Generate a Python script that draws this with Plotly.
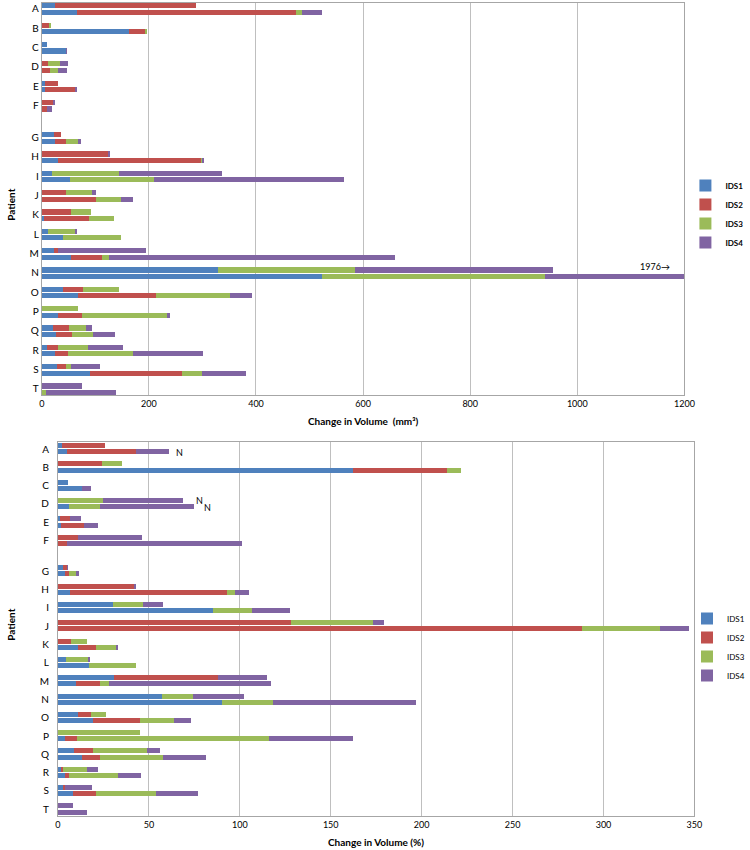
import plotly.graph_objects as go

patients = list("ABCDEFGHIJKLMNOPQRST")
series_names = ["IDS1", "IDS2", "IDS3", "IDS4"]
colors = ["#4F81BD", "#C0504D", "#9BBB59", "#8064A2"]

# Top panel: change in volume (mm3); two bars per patient (row 1, row 2)
vol_ids1 = [25, 65, 0, 163, 10, 45, 0, 0, 5, 6, 0, 0, 22, 25, 0, 29, 19, 52, 0, 0,
            0, 4, 11, 39, 22, 55, 328, 522, 40, 67, 0, 29, 20, 27, 10, 25, 28, 89, 0, 0]
vol_ids2 = [263, 410, 14, 30, 0, 0, 11, 14, 24, 56, 21, 10, 13, 20, 125, 267, 0, 0, 45, 101,
            54, 83, 0, 0, 8, 57, 0, 0, 36, 145, 0, 45, 30, 29, 19, 24, 17, 173, 0, 0]
vol_ids3 = [0, 11, 3, 2, 0, 0, 23, 16, 0, 0, 0, 0, 0, 22, 0, 4, 124, 157, 48, 46,
            37, 47, 52, 109, 0, 14, 256, 418, 67, 139, 68, 159, 33, 39, 56, 121, 10, 36, 0, 8]
vol_ids4 = [0, 37, 0, 0, 0, 1, 14, 17, 0, 3, 2, 8, 0, 5, 1, 3, 194, 354, 8, 23,
            0, 0, 1, 0, 165, 533, 371, 1036, 0, 42, 0, 6, 11, 42, 66, 130, 54, 83, 74, 130]

# Bottom panel: change in volume (%)
pct_ids1 = [2, 5, 0, 162, 5.5, 13, 0, 6, 1, 1.4, 0, 0, 3, 3.6, 0, 6.4, 30, 85.5, 0, 0,
            0, 11, 4.4, 17, 31, 10, 57, 90, 11, 19, 0, 3.6, 9, 13, 1.4, 3.6, 2.5, 8, 0, 0]
pct_ids2 = [24, 38, 24, 52, 0, 0, 0, 0, 5.5, 12.8, 11, 5, 2, 2.5, 42, 86.5, 0, 0, 128, 288,
            7, 10, 0, 0, 57, 13, 0, 0, 7, 26, 0, 6.7, 10, 10, 1.4, 2.3, 1.4, 13, 0, 0]
pct_ids3 = [0, 0, 11, 7.5, 0, 0, 25, 17, 0, 0, 0, 0, 0, 3.9, 0, 4.3, 17, 21, 45, 43,
            9, 11, 12.4, 26, 0, 5, 17, 28, 8.5, 19, 45, 106, 30, 35, 13, 27, 0, 33, 0, 0]
pct_ids4 = [0, 18, 0, 0, 0, 5, 44, 52, 6, 8, 35, 96, 0.5, 1.4, 0.4, 7.8, 11, 21, 6, 16,
            0, 1, 1, 0, 27, 89, 28.5, 79, 0, 9, 0, 46, 7, 23.5, 6, 13, 15, 23, 8.4, 16]

top_ticks = [0, 200, 400, 600, 800, 1000, 1200]
bottom_ticks = [0, 50, 100, 150, 200, 250, 300, 350]

# row layout: two bars per patient, one blank row between patients,
# two extra blank rows between F and G
rows = []
for i in range(len(patients)):
    extra = 2 if i >= 6 else 0
    rows += [3 * i + extra, 3 * i + extra + 1]
label_pos = [3 * i + (2 if i >= 6 else 0) + 0.5 for i in range(len(patients))]

FONT = "Lato, Open Sans, sans-serif"
fig = go.Figure()

top_data = [vol_ids1, vol_ids2, vol_ids3, vol_ids4]
bot_data = [pct_ids1, pct_ids2, pct_ids3, pct_ids4]
for name, col, vals in zip(series_names, colors, top_data):
    fig.add_trace(go.Bar(x=vals, y=rows, orientation="h", name=name,
                         marker=dict(color=col, line=dict(width=0)), width=0.8,
                         xaxis="x", yaxis="y", legend="legend"))
for name, col, vals in zip(series_names, colors, bot_data):
    fig.add_trace(go.Bar(x=vals, y=rows, orientation="h", name=name,
                         marker=dict(color=col, line=dict(width=0)), width=0.82,
                         xaxis="x2", yaxis="y2", legend="legend2"))

# body margin is removed in the page (post_script), so paper == page
W, H = 750, 850
def fx(px):
    return px / W
def fy(py):
    return 1 - py / H
def px_x(a, b):
    return [fx(a), fx(b)]
def px_y(top, bottom):
    return [fy(bottom), fy(top)]

axis_common = dict(showline=True, linecolor="#A6A6A6", linewidth=1, mirror=True,
                   ticks="", zeroline=False)
xfont = dict(family=FONT, size=9, color="#000")
yfont = dict(family=FONT, size=10, color="#000")

fig.update_layout(
    width=W, height=H, barmode="stack", bargap=0,
    margin=dict(l=0, r=0, t=0, b=0),
    plot_bgcolor="white", paper_bgcolor="white",
    font=dict(family=FONT, color="#000"),
    xaxis=dict(domain=px_x(40, 703), range=[0, 1200], tickvals=top_ticks, tickfont=xfont,
               showgrid=True, gridcolor="#BFBFBF", anchor="y", **axis_common),
    yaxis=dict(domain=px_y(2.7, 395), range=[60.45, -0.45], tickvals=label_pos,
               ticktext=patients, showgrid=False, anchor="x", tickfont=yfont, **axis_common),
    xaxis2=dict(domain=px_x(56.7, 713.3), range=[0, 350], tickvals=bottom_ticks, tickfont=xfont,
                showgrid=True, gridcolor="#BFBFBF", anchor="y2", **axis_common),
    yaxis2=dict(domain=px_y(442.3, 816), range=[60.6, -0.6], tickvals=label_pos,
                ticktext=patients, showgrid=False, anchor="x2", ticklabelstandoff=6,
                tickfont=yfont, **axis_common),
    legend=dict(x=fx(704), y=fy(171), xanchor="left", yanchor="top", traceorder="normal",
                font=dict(family=FONT, size=8, color="#000", weight="bold"),
                bgcolor="rgba(0,0,0,0)", itemwidth=30, tracegroupgap=0),
    legend2=dict(x=fx(706), y=fy(604), xanchor="left", yanchor="top", traceorder="normal",
                 font=dict(family=FONT, size=8, color="#000"),
                 bgcolor="rgba(0,0,0,0)", itemwidth=30, tracegroupgap=0),
    showlegend=True,
)

ann = [
    dict(text="<b>Change in Volume  (mm³)</b>", x=fx(371.5), y=fy(421)),
    dict(text="<b>Change in Volume (%)</b>", x=fx(385), y=fy(842)),
    dict(text="<b>Patient</b>", x=fx(8), y=fy(205), textangle=-90),
    dict(text="<b>Patient</b>", x=fx(8), y=fy(625), textangle=-90),
]
for a in ann:
    fig.add_annotation(xref="paper", yref="paper", showarrow=False,
                       xanchor="center", yanchor="middle",
                       font=dict(family=FONT, size=10, color="#000"), **a)

# data-anchored notes
fig.add_annotation(x=1145, y=rows[26], xref="x", yref="y", text="1976→", showarrow=False,
                   yshift=3, font=dict(family=FONT, size=9, color="#000"))
for xv, r in [(67, rows[1]), (78, rows[6]), (82, rows[7])]:
    fig.add_annotation(x=xv, y=r, xref="x2", yref="y2", text="N", showarrow=False,
                       font=dict(family=FONT, size=9, color="#000"))

fig.write_html("out.html", config={"displayModeBar": False},
               post_script="document.body.style.margin='0';document.body.style.padding='0';")
